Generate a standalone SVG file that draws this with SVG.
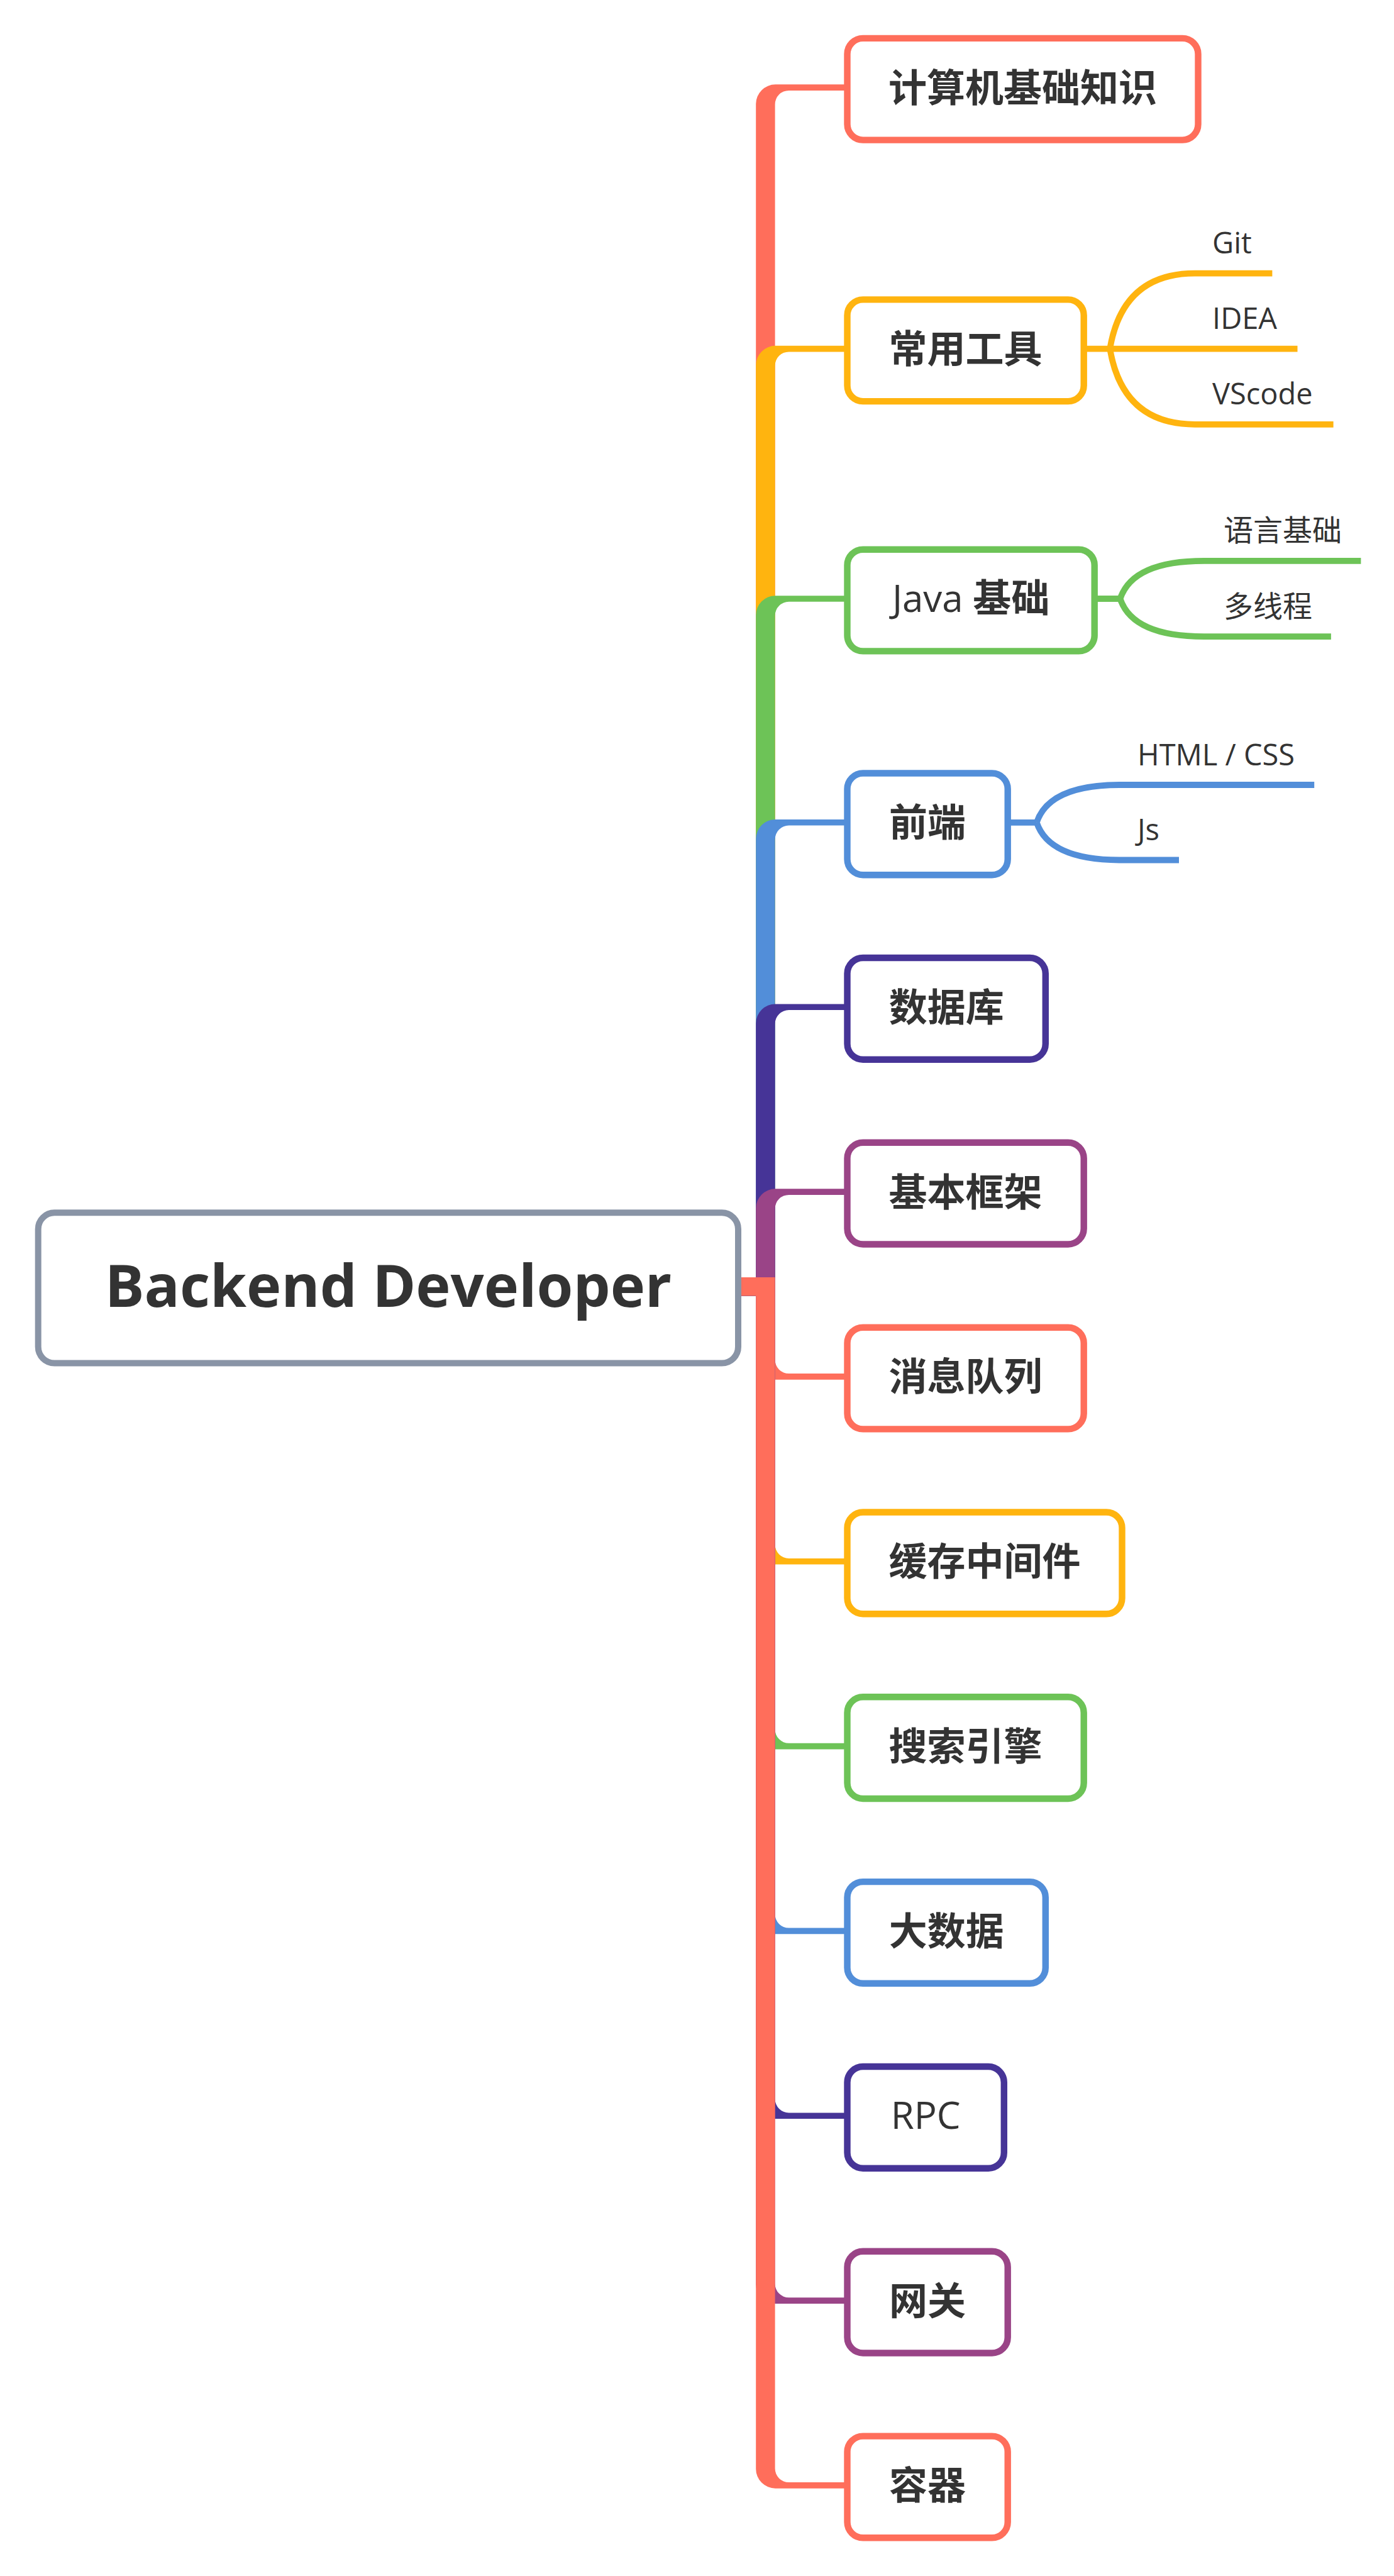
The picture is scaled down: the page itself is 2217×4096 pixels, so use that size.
<svg xmlns="http://www.w3.org/2000/svg" width="2217" height="4096" viewBox="0 0 2217 4096">
<style>
.bg{fill:#ffffff}
.box{fill:#ffffff;stroke-width:10.4}
.t{font-family:"Open Sans","Noto Sans CJK SC",sans-serif;font-size:61px;font-weight:bold;fill:#333333;text-anchor:middle}
.lat{font-weight:normal;font-size:60px}
.root{font-family:"Open Sans","Noto Sans",sans-serif;font-size:93.5px;font-weight:bold;fill:#333333;text-anchor:middle}
.sub{font-family:"Open Sans","Noto Sans CJK SC",sans-serif;font-size:47px;fill:#333333}
.sb{fill:none;stroke-width:9.8;stroke-linecap:butt}
.red{fill:#FF6E5B}.yel{fill:#FFB40F}.grn{fill:#6DC357}.blu{fill:#528ED9}.ind{fill:#463497}.mag{fill:#9A4487}
.sred{stroke:#FF6E5B}.syel{stroke:#FFB40F}.sgrn{stroke:#6DC357}.sblu{stroke:#528ED9}.sind{stroke:#463497}.smag{stroke:#9A4487}
</style>
<rect class="bg" x="0" y="0" width="2217" height="4096"/>
<g id="connectors">
<path class="red" d="M1175,2060.6 L1232.6,2060.6 L1232.6,165.9 A22 22 0 0 1 1254.6,143.9 L1349,143.9 L1349,134.3 L1233.2,134.3 A31 31 0 0 0 1202.2,165.3 L1202.2,2030.9 L1175,2030.9 Z"/>
<path class="yel" d="M1175,2060.6 L1232.6,2060.6 L1232.6,581.4 A22 22 0 0 1 1254.6,559.4 L1349,559.4 L1349,549.8 L1233.2,549.8 A31 31 0 0 0 1202.2,580.8 L1202.2,2030.9 L1175,2030.9 Z"/>
<path class="grn" d="M1175,2060.6 L1232.6,2060.6 L1232.6,978.8 A22 22 0 0 1 1254.6,956.8 L1349,956.8 L1349,947.2 L1233.2,947.2 A31 31 0 0 0 1202.2,978.2 L1202.2,2030.9 L1175,2030.9 Z"/>
<path class="blu" d="M1175,2060.6 L1232.6,2060.6 L1232.6,1334.6 A22 22 0 0 1 1254.6,1312.6 L1349,1312.6 L1349,1303.0 L1233.2,1303.0 A31 31 0 0 0 1202.2,1334.0 L1202.2,2030.9 L1175,2030.9 Z"/>
<path class="ind" d="M1175,2060.6 L1232.6,2060.6 L1232.6,1628.0 A22 22 0 0 1 1254.6,1606.0 L1349,1606.0 L1349,1596.4 L1233.2,1596.4 A31 31 0 0 0 1202.2,1627.4 L1202.2,2030.9 L1175,2030.9 Z"/>
<path class="mag" d="M1175,2060.6 L1232.6,2060.6 L1232.6,1921.9 A22 22 0 0 1 1254.6,1899.9 L1349,1899.9 L1349,1890.3 L1233.2,1890.3 A31 31 0 0 0 1202.2,1921.3 L1202.2,2030.9 L1175,2030.9 Z"/>
<path class="red" d="M1175,2030.9 L1232.6,2030.9 L1232.6,2162.1 A22 22 0 0 0 1254.6,2184.1 L1349,2184.1 L1349,2193.7 L1233.2,2193.7 A31 31 0 0 1 1202.2,2162.7 L1202.2,2060.6 L1175,2060.6 Z"/>
<path class="yel" d="M1175,2030.9 L1232.6,2030.9 L1232.6,2455.9 A22 22 0 0 0 1254.6,2477.9 L1349,2477.9 L1349,2487.5 L1233.2,2487.5 A31 31 0 0 1 1202.2,2456.5 L1202.2,2060.6 L1175,2060.6 Z"/>
<path class="grn" d="M1175,2030.9 L1232.6,2030.9 L1232.6,2749.8 A22 22 0 0 0 1254.6,2771.8 L1349,2771.8 L1349,2781.4 L1233.2,2781.4 A31 31 0 0 1 1202.2,2750.4 L1202.2,2060.6 L1175,2060.6 Z"/>
<path class="blu" d="M1175,2030.9 L1232.6,2030.9 L1232.6,3043.6 A22 22 0 0 0 1254.6,3065.6 L1349,3065.6 L1349,3075.2 L1233.2,3075.2 A31 31 0 0 1 1202.2,3044.2 L1202.2,2060.6 L1175,2060.6 Z"/>
<path class="ind" d="M1175,2030.9 L1232.6,2030.9 L1232.6,3337.4 A22 22 0 0 0 1254.6,3359.4 L1349,3359.4 L1349,3369.0 L1233.2,3369.0 A31 31 0 0 1 1202.2,3338.0 L1202.2,2060.6 L1175,2060.6 Z"/>
<path class="mag" d="M1175,2030.9 L1232.6,2030.9 L1232.6,3631.3 A22 22 0 0 0 1254.6,3653.3 L1349,3653.3 L1349,3662.9 L1233.2,3662.9 A31 31 0 0 1 1202.2,3631.9 L1202.2,2060.6 L1175,2060.6 Z"/>
<path class="red" d="M1175,2030.9 L1232.6,2030.9 L1232.6,3925.1 A22 22 0 0 0 1254.6,3947.1 L1349,3947.1 L1349,3956.7 L1233.2,3956.7 A31 31 0 0 1 1202.2,3925.7 L1202.2,2060.6 L1175,2060.6 Z"/>
<path class="sb syel" d="M1725,554.6 L2063.5,554.6"/>
<path class="sb syel" d="M1765.2,554.6 Q1785.5,434.6 1900.3,434.6 L2023.4,434.6"/>
<path class="sb syel" d="M1765.2,554.6 Q1785.5,674.8 1900.3,674.8 L2120.6,674.8"/>
<path class="sb sgrn" d="M1742,952 L1781.5,952"/>
<path class="sb sgrn" d="M1781.5,952 Q1801.5,891.8 1915.1,891.8 L2164.4,891.8"/>
<path class="sb sgrn" d="M1781.5,952 Q1801.5,1012.1 1915.1,1012.1 L2116.9,1012.1"/>
<path class="sb sblu" d="M1604,1307.8 L1648.7,1307.8"/>
<path class="sb sblu" d="M1648.7,1307.8 Q1668.6,1248 1781.5,1248 L2090.2,1248"/>
<path class="sb sblu" d="M1648.7,1307.8 Q1668.6,1367.5 1781.5,1367.5 L1875,1367.5"/>
</g>
<g id="root">
<rect x="60.7" y="1928.3" width="1113.3" height="239.3" rx="26" fill="#ffffff" stroke="#8994A6" stroke-width="10"/>
<text class="root" x="617.5" y="2077.6">Backend Developer</text>
</g>
<g id="n1"><rect class="box sred" x="1347.5" y="60.9" width="558" height="161.7" rx="25"/><text class="t" x="1626.5" y="161.6">计算机基础知识</text></g>
<g id="n2"><rect class="box syel" x="1347.5" y="476.4" width="376.2" height="161.7" rx="25"/><text class="t" x="1535.6" y="577.1">常用工具</text></g>
<g id="n2a"><text class="sub" x="1928" y="403.1">Git</text></g>
<g id="n2b"><text class="sub" x="1928" y="523.1">IDEA</text></g>
<g id="n2c"><text class="sub" x="1928" y="643.3">VScode</text></g>
<g id="n3"><rect class="box sgrn" x="1347.5" y="873.7" width="393.2" height="161.7" rx="25"/><text class="t" x="1544.1" y="973"><tspan class="lat">Java </tspan>基础</text></g>
<g id="n3a"><text class="sub" x="1946" y="860.3">语言基础</text></g>
<g id="n3b"><text class="sub" x="1946" y="980.6">多线程</text></g>
<g id="n4"><rect class="box sblu" x="1347.5" y="1229.5" width="255.2" height="161.7" rx="25"/><text class="t" x="1475.1" y="1330.3">前端</text></g>
<g id="n4a"><text class="sub" x="1809" y="1216.5">HTML / CSS</text></g>
<g id="n4b"><text class="sub" x="1809" y="1336">Js</text></g>
<g id="n5"><rect class="box sind" x="1347.5" y="1523" width="315.3" height="161.7" rx="25"/><text class="t" x="1505.2" y="1623.7">数据库</text></g>
<g id="n6"><rect class="box smag" x="1347.5" y="1816.8" width="376.2" height="161.7" rx="25"/><text class="t" x="1535.6" y="1917.6">基本框架</text></g>
<g id="n7"><rect class="box sred" x="1347.5" y="2110.7" width="376.2" height="161.7" rx="25"/><text class="t" x="1535.6" y="2211.4">消息队列</text></g>
<g id="n8"><rect class="box syel" x="1347.5" y="2404.5" width="437" height="161.7" rx="25"/><text class="t" x="1566" y="2505.2">缓存中间件</text></g>
<g id="n9"><rect class="box sgrn" x="1347.5" y="2698.3" width="376.2" height="161.7" rx="25"/><text class="t" x="1535.6" y="2799.1">搜索引擎</text></g>
<g id="n10"><rect class="box sblu" x="1347.5" y="2992.1" width="315.3" height="161.7" rx="25"/><text class="t" x="1505.2" y="3092.9">大数据</text></g>
<g id="n11"><rect class="box sind" x="1347.5" y="3286" width="249.3" height="161.7" rx="25"/><text class="t lat" x="1472.2" y="3385.2">RPC</text></g>
<g id="n12"><rect class="box smag" x="1347.5" y="3579.8" width="255.2" height="161.7" rx="25"/><text class="t" x="1475.1" y="3680.6">网关</text></g>
<g id="n13"><rect class="box sred" x="1347.5" y="3873.6" width="255.2" height="161.7" rx="25"/><text class="t" x="1475.1" y="3974.4">容器</text></g>
</svg>
